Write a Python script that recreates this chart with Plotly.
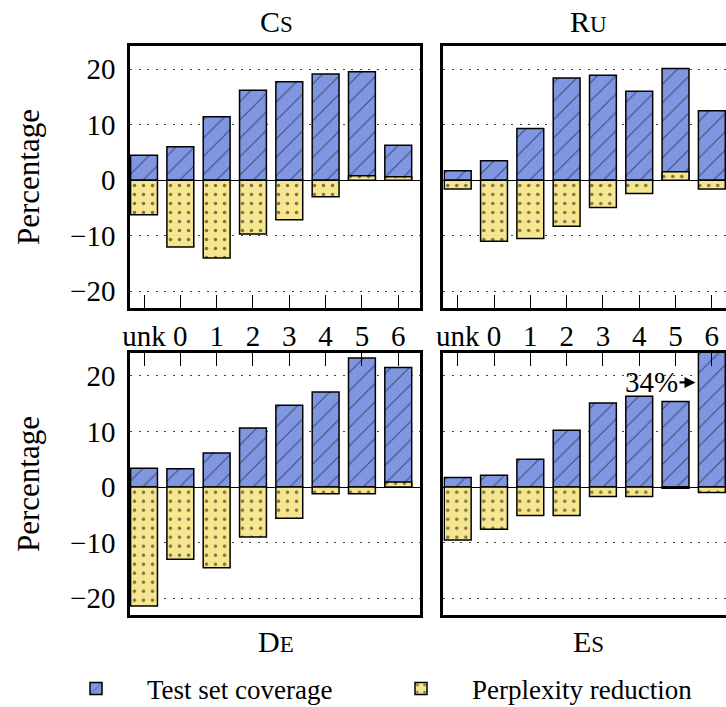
import plotly.graph_objects as go

categories = ["unk", "0", "1", "2", "3", "4", "5", "6"]

cs_coverage = [4.5, 6.0, 11.4, 16.2, 17.7, 19.1, 19.5, 6.3]
cs_perplexity = [-6.2, -12.0, -14.0, -9.7, -7.1, -3.0, 0.8, 0.6]
ru_coverage = [1.7, 3.5, 9.3, 18.4, 18.9, 16.0, 20.1, 12.5]
ru_perplexity = [-1.6, -11.0, -10.5, -8.3, -4.9, -2.4, 1.5, -1.6]
de_coverage = [3.4, 3.3, 6.1, 10.6, 14.7, 17.1, 23.2, 21.5]
de_perplexity = [-21.4, -13.0, -14.5, -9.0, -5.6, -1.2, -1.2, 0.9]
es_coverage = [1.7, 2.1, 5.0, 10.2, 15.1, 16.3, 15.4, 34.0]
es_perplexity = [-9.5, -7.6, -5.1, -5.1, -1.7, -1.7, -0.2, -1.0]

y_ticks = [-20, -10, 0, 10, 20]
series_names = ["Test set coverage", "Perplexity reduction"]

W, H = 726, 707
FONT = "Liberation Serif"
BLUE = "#8096e0"
YELLOW = "#f6e690"
BAR_W = 0.74

def px(x):
    return x / W

def py(y):
    return 1 - y / H

panels = [
    (cs_coverage, cs_perplexity, "x", "y"),
    (ru_coverage, ru_perplexity, "x2", "y2"),
    (de_coverage, de_perplexity, "x3", "y3"),
    (es_coverage, es_perplexity, "x4", "y4"),
]

fig = go.Figure()
for i, (cov, ppl, xa, ya) in enumerate(panels):
    fig.add_trace(go.Bar(
        x=categories, y=cov, xaxis=xa, yaxis=ya, width=BAR_W,
        name=series_names[0], legend="legend", showlegend=(i == 0),
        marker=dict(color=BLUE, line=dict(color="black", width=1.5),
                    pattern=dict(shape="/", size=13, solidity=0.08,
                                 fgcolor="black", bgcolor=BLUE)),
    ))
    fig.add_trace(go.Bar(
        x=categories, y=ppl, xaxis=xa, yaxis=ya, width=BAR_W,
        name=series_names[1], legend="legend2", showlegend=(i == 0),
        marker=dict(color=YELLOW, line=dict(color="black", width=1.5),
                    pattern=dict(shape=".", size=9, solidity=0.12,
                                 fgcolor="black", bgcolor=YELLOW)),
    ))

left_dom = [px(130), px(419.5)]
right_dom = [px(443.3), 1.0]
top_dom = [py(308), py(46)]
bot_dom = [py(615), py(352.7)]
YR = [-23.0, 24.15]

grid = dict(showgrid=True, gridcolor="#444444", gridwidth=1.3, griddash="2px,6.5px")

def xaxis(dom, rng, anchor, side, labels):
    return dict(domain=dom, range=rng, anchor=anchor, type="category",
                side=side, showline=True, linecolor="black", linewidth=2.6,
                mirror=True, ticks="inside", ticklen=13, tickwidth=1.3,
                tickcolor="black", showticklabels=labels, showgrid=False,
                zeroline=False, tickfont=dict(family=FONT, size=29, color="black"),
                fixedrange=True)

def yaxis(dom, anchor, labels, mirror):
    d = dict(domain=dom, range=YR, anchor=anchor, tickvals=y_ticks,
             showline=True, linecolor="black", linewidth=2.6, mirror=mirror,
             ticks="", showticklabels=labels, zeroline=True,
             zerolinecolor="black", zerolinewidth=1.3,
             tickfont=dict(family=FONT, size=29, color="black"),
             ticklabelstandoff=6, fixedrange=True)
    d.update(grid)
    return d

LR = [-0.386, 7.585]
RR = [-0.397, 7.39]

legend_common = dict(orientation="h", xanchor="left", yanchor="middle",
                     y=py(689), itemwidth=92,
                     font=dict(family=FONT, size=27, color="black"),
                     bgcolor="rgba(0,0,0,0)")

fig.update_layout(
    width=W, height=H,
    margin=dict(l=0, r=0, t=0, b=0, autoexpand=False),
    paper_bgcolor="white", plot_bgcolor="white",
    barmode="overlay",
    font=dict(family=FONT, color="black"),
    xaxis=xaxis(left_dom, LR, "y", "bottom", True),
    yaxis=yaxis(top_dom, "x", True, True),
    xaxis2=xaxis(right_dom, RR, "y2", "bottom", True),
    yaxis2=yaxis(top_dom, "x2", False, False),
    xaxis3=xaxis(left_dom, LR, "y3", "top", False),
    yaxis3=yaxis(bot_dom, "x3", True, True),
    xaxis4=xaxis(right_dom, RR, "y4", "top", False),
    yaxis4=yaxis(bot_dom, "x4", False, False),
    legend=dict(x=px(45), **legend_common),
    legend2=dict(x=px(370), **legend_common),
)

def title(big, small, x, y):
    return dict(text=f"{big}<span style='font-size:23px'>{small}</span>",
                x=px(x), y=py(y), xref="paper", yref="paper",
                showarrow=False, xanchor="center", yanchor="middle",
                font=dict(family=FONT, size=30, color="black"))

annotations = [
    title("C", "S", 276, 21),
    title("R", "U", 588, 21),
    title("D", "E", 276, 641),
    title("E", "S", 588, 641),
]
for yc in (177, 484):
    annotations.append(dict(text="Percentage", x=px(28), y=py(yc), xref="paper",
                            yref="paper", showarrow=False, textangle=-90,
                            xanchor="center", yanchor="middle",
                            font=dict(family=FONT, size=31, color="black")))
# clipped-value label on the Es "6" bar
annotations.append(dict(text="34%", x=7 - BAR_W / 2 - 0.08, y=18.8,
                        xref="x4", yref="y4", showarrow=True,
                        arrowhead=2, arrowsize=1, arrowwidth=2.2,
                        arrowcolor="black", ax=-44, ay=0, standoff=0,
                        font=dict(family=FONT, size=29, color="black")))
fig.update_layout(annotations=annotations)

fig.write_html("out.html")
